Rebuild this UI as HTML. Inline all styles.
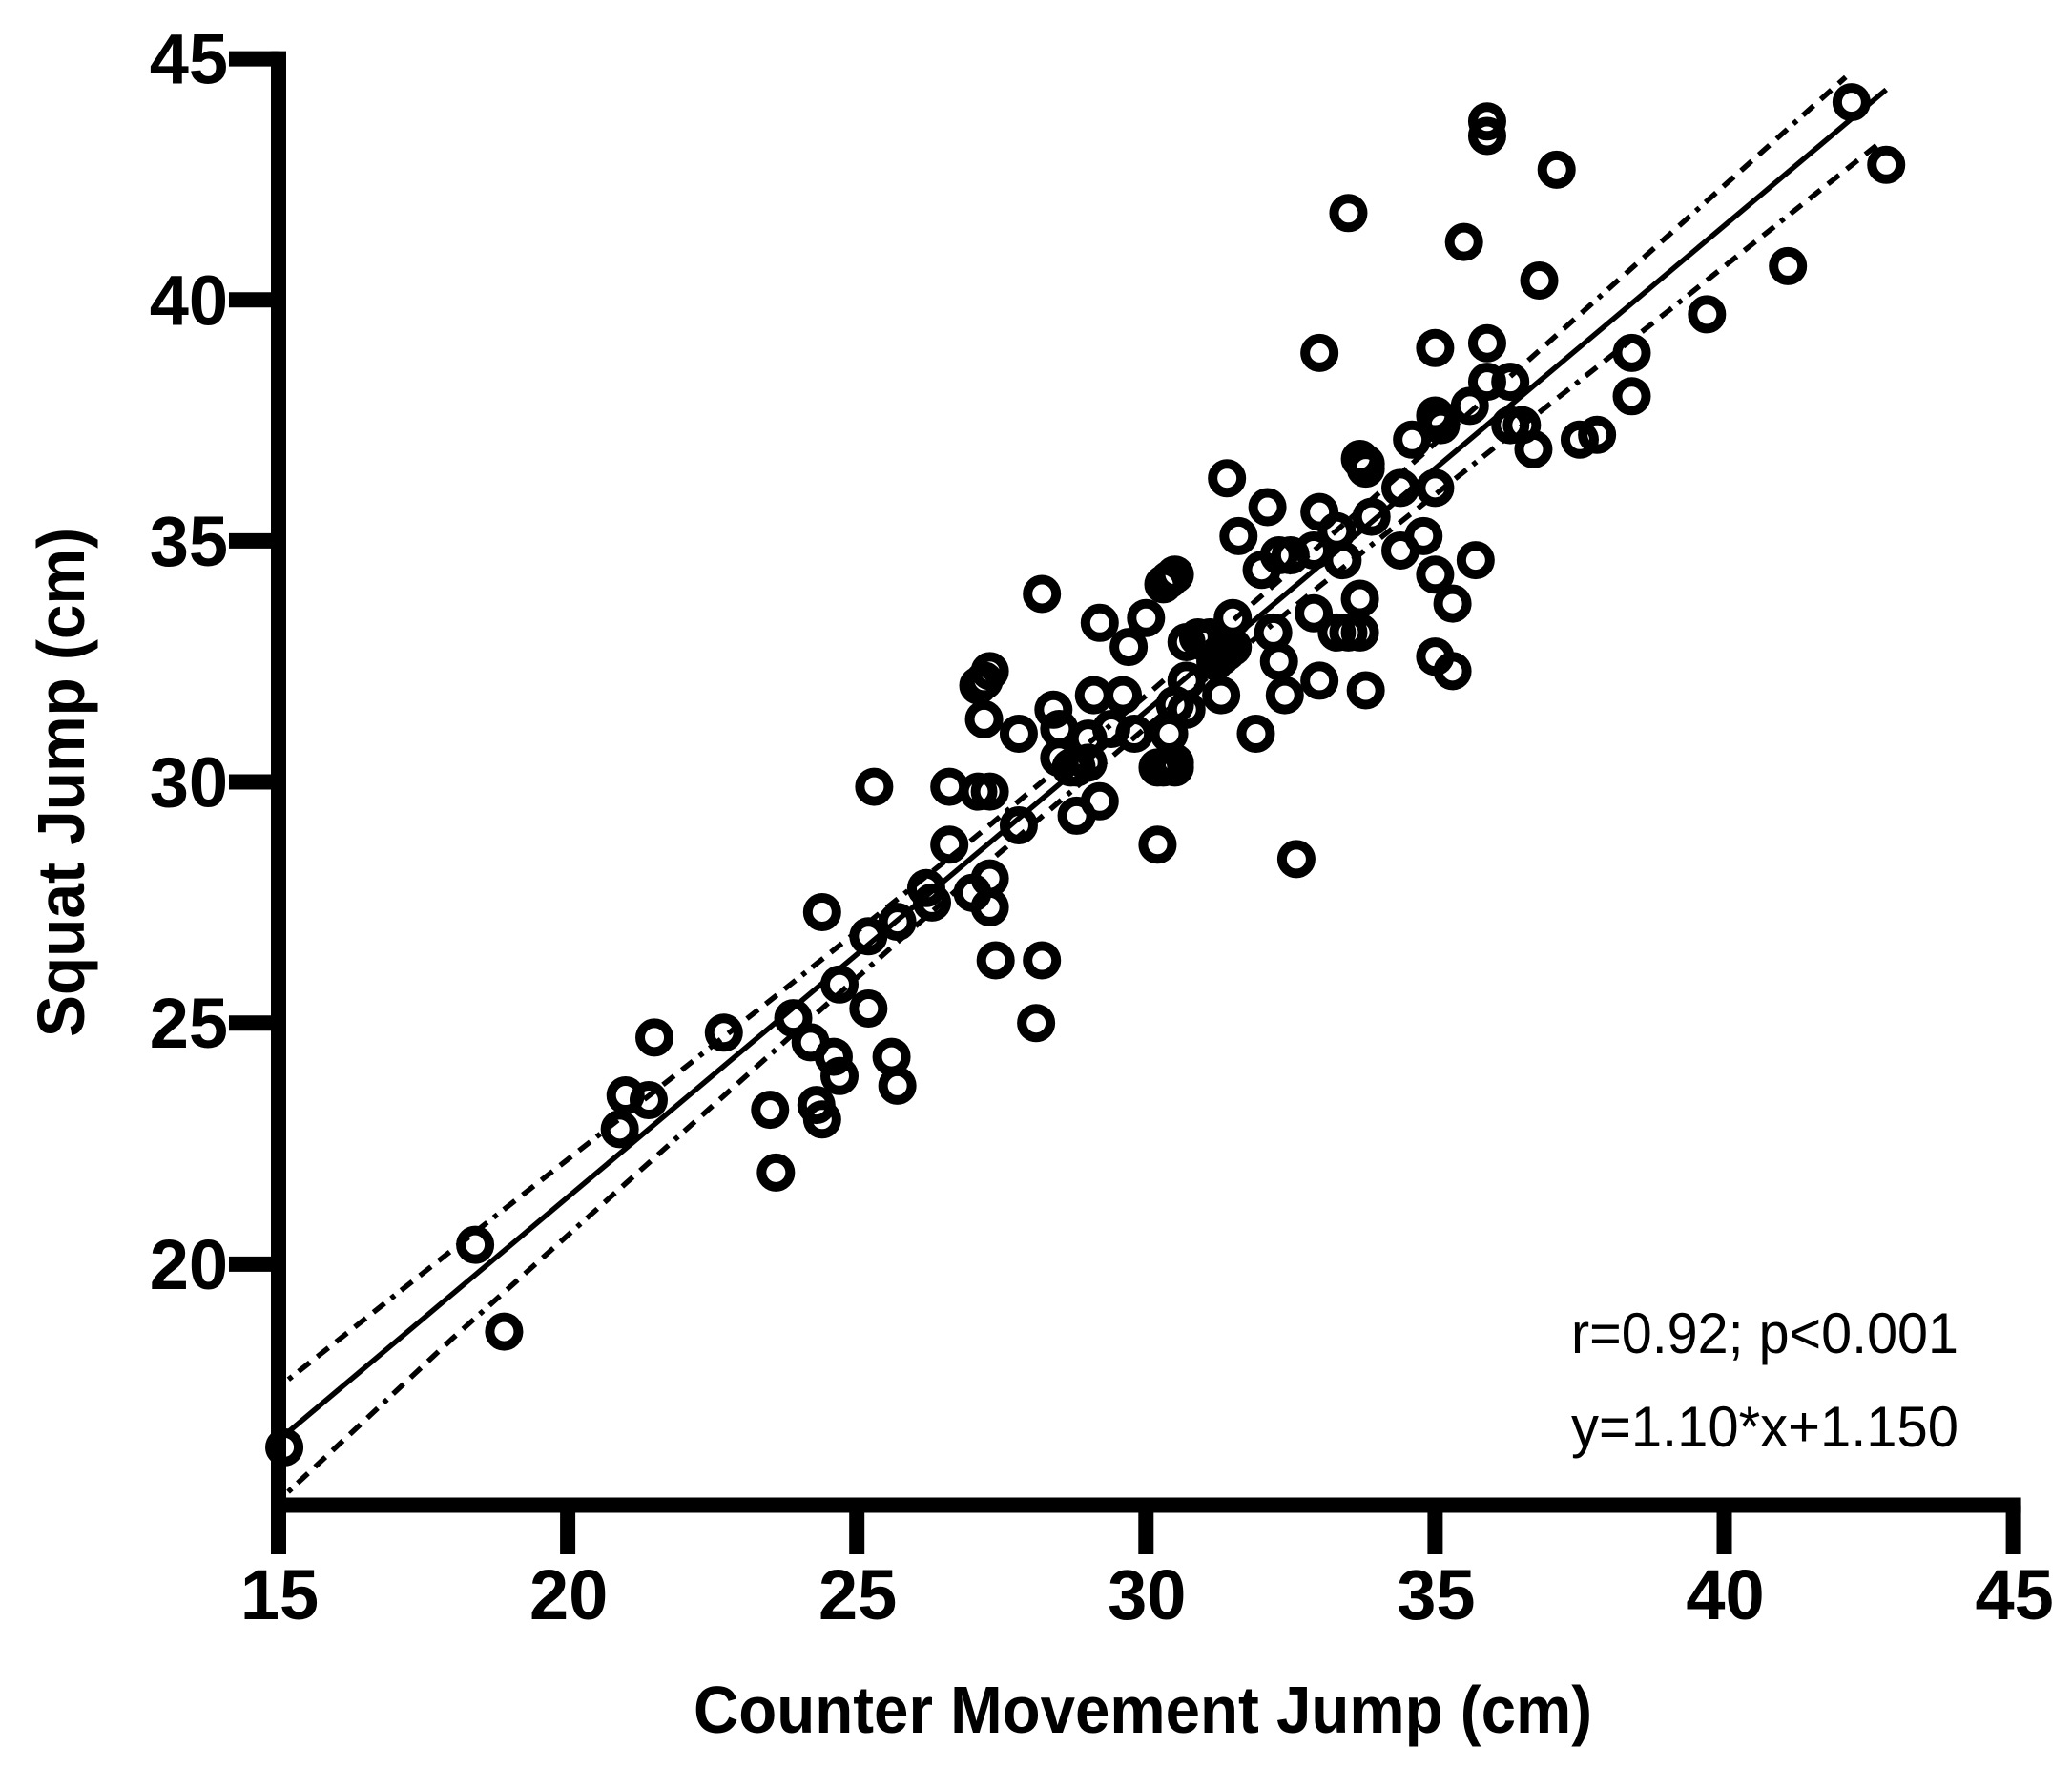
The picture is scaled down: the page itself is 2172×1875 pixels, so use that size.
<!DOCTYPE html>
<html lang="en">
<head>
<meta charset="utf-8">
<title>Squat Jump vs Counter Movement Jump</title>
<style>
html,body{margin:0;padding:0;background:#fff;width:2172px;height:1875px;overflow:hidden}
svg{display:block}
text{font-family:"Liberation Sans",Arial,sans-serif;fill:#000}
</style>
</head>
<body>
<svg id="chart" xmlns="http://www.w3.org/2000/svg" width="2172" height="1875" viewBox="0 0 2172 1875">
  <rect x="0" y="0" width="2172" height="1875" fill="#fff"/>
  <g id="fits"></g>
  <g id="axes"></g>
  <g id="points"></g>
  <text x="1198" y="1816" font-size="70" font-weight="bold" text-anchor="middle" textLength="942" lengthAdjust="spacingAndGlyphs">Counter Movement Jump (cm)</text>
  <text transform="translate(88,820) rotate(-90)" font-size="70" font-weight="bold" text-anchor="middle" textLength="534" lengthAdjust="spacingAndGlyphs">Squat Jump (cm)</text>
  <text x="1647" y="1418" font-size="60" textLength="406" lengthAdjust="spacingAndGlyphs">r=0.92; p&lt;0.001</text>
  <text x="1647" y="1516" font-size="60" textLength="406" lengthAdjust="spacingAndGlyphs">y=1.10*x+1.150</text>
</svg>
<script>
const xTicks = [15, 20, 25, 30, 35, 40, 45];
const yTicks = [20, 25, 30, 35, 40, 45];
const cmjValues = [15.1,18.4,18.9,20.9,21.0,21.4,21.5,22.7,23.5,23.6,23.9,24.2,24.3,24.4,24.4,24.6,24.7,24.7,25.2,25.2,25.3,25.6,25.7,25.7,26.2,26.3,26.6,26.6,27.0,27.1,27.1,27.2,27.2,27.3,27.3,27.3,27.3,27.4,27.8,27.8,28.1,28.2,28.2,28.4,28.5,28.5,28.7,28.8,28.8,29.0,29.0,29.1,29.2,29.2,29.4,29.6,29.7,29.8,30.0,30.2,30.2,30.3,30.4,30.5,30.5,30.4,30.5,30.3,30.4,30.5,30.7,30.7,30.7,30.9,31.0,31.1,31.2,31.3,31.4,31.5,31.5,31.3,31.4,31.6,31.9,32.0,32.2,32.1,32.3,32.5,32.3,32.4,32.6,32.9,33.0,32.9,33.0,33.0,33.3,33.4,33.3,33.5,33.7,33.7,33.5,33.7,33.8,33.8,33.8,33.9,34.4,34.4,34.6,34.8,35.0,35.0,35.0,35.0,35.0,35.1,35.1,35.3,35.3,35.5,35.6,35.7,35.9,35.9,35.9,35.9,36.3,36.3,36.5,36.7,36.8,37.1,37.5,37.8,38.4,38.4,39.7,41.1,42.2,42.8];
const squatValues = [16.2,20.4,18.6,22.8,23.5,23.4,24.7,24.8,23.2,21.9,25.1,24.6,23.3,23.0,27.3,24.3,23.9,25.8,25.3,26.8,29.9,24.3,23.7,27.1,27.8,27.5,28.7,29.9,27.7,29.8,32.0,31.3,32.1,32.3,29.8,28.0,27.4,26.3,29.1,31.0,25.0,26.3,33.9,31.5,31.1,30.5,30.3,30.3,29.3,30.4,30.9,31.8,29.6,33.3,31.1,31.8,32.8,31.0,33.4,28.7,30.3,30.3,30.4,30.3,30.4,31.0,31.6,34.1,34.2,34.3,31.5,32.1,32.9,33.0,32.9,33.0,32.5,32.6,32.7,32.8,33.4,31.8,36.3,35.1,31.0,34.4,33.1,35.7,34.7,34.7,32.5,31.8,28.4,34.8,35.6,33.5,32.1,38.9,35.2,34.6,33.1,33.1,33.1,33.8,41.8,36.7,36.6,36.5,31.9,35.5,34.8,36.1,37.1,35.1,36.1,34.3,32.6,39.0,37.6,37.4,37.5,33.7,32.3,41.2,37.8,34.6,38.3,39.1,43.7,43.4,38.3,37.4,37.4,36.9,40.4,42.7,37.1,37.2,38.9,38.0,39.7,40.7,44.1,42.8];
const fitX = [15.1, 42.8];
const fitY = [16.45, 44.36];
const upperX = [15.1,18,21,24,27,30,33,36,39,42.1];
const upperY = [17.54,20.29,23.11,25.94,28.81,31.79,34.90,38.09,41.30,44.62];
const lowerX = [15.1,18,21,24,27,30,33,36,39,42.65];
const lowerY = [15.2,18.45,21.67,24.88,28.05,31.13,34.06,36.91,39.74,43.22];

const NS = 'http://www.w3.org/2000/svg';
function xScale(v) { return 292 + (v - 15) * 60.62; }
function yScale(v) { return 1577.5 - (v - 15) * 50.53; }
function make(tag, parent, props) {
  const el = document.createElementNS(NS, tag);
  for (const k in props) el.setAttribute(k, props[k]);
  parent.appendChild(el);
  return el;
}
const axes = document.getElementById('axes');
const fits = document.getElementById('fits');
const pointsG = document.getElementById('points');
const AXIS_W = 16, TICK_END_X = 240, TICK_END_Y = 1629;

const yAxisLine = make('line', axes, {x1: xScale(15), x2: xScale(15), y1: yScale(45) - AXIS_W / 2, y2: TICK_END_Y, stroke: '#000', 'stroke-width': AXIS_W});


const xAxisLine = make('line', axes, {x1: xScale(15), x2: xScale(45) + AXIS_W / 2, y1: yScale(15), y2: yScale(15), stroke: '#000', 'stroke-width': AXIS_W});



xTicks.forEach(function (t) {
  const tick = make('line', axes, {x1: xScale(t), x2: xScale(t), y1: yScale(15), y2: TICK_END_Y, stroke: '#000', 'stroke-width': AXIS_W});
  
  
  const label = make('text', axes, {x: xScale(t) + 1, y: 1697, 'font-size': 74, 'font-weight': 'bold', 'text-anchor': 'middle'});
  label.textContent = t;
  
  
});
yTicks.forEach(function (t) {
  const tick = make('line', axes, {x1: TICK_END_X, x2: xScale(15), y1: yScale(t), y2: yScale(t), stroke: '#000', 'stroke-width': AXIS_W});
  
  
  const label = make('text', axes, {x: 239, y: yScale(t) + 26, 'font-size': 74, 'font-weight': 'bold', 'text-anchor': 'end'});
  label.textContent = t;
  
  
});

function polyPoints(xs, ys) {
  return xs.map(function (x, i) { return xScale(x) + ',' + yScale(ys[i]); }).join(' ');
}
const dashPattern = '15 10 15 10 15 10 15 10 15 8.5 5 8.5';
const fitLine = make('polyline', fits, {points: polyPoints(fitX, fitY), fill: 'none', stroke: '#000', 'stroke-width': 5.5});


const upperLine = make('polyline', fits, {points: polyPoints(upperX, upperY), fill: 'none', stroke: '#000', 'stroke-width': 5.5, 'stroke-dasharray': dashPattern, 'stroke-dashoffset': 118});


const lowerLine = make('polyline', fits, {points: polyPoints(lowerX, lowerY), fill: 'none', stroke: '#000', 'stroke-width': 5.5, 'stroke-dasharray': dashPattern, 'stroke-dashoffset': 118});



cmjValues.forEach(function (v, i) {
  const pt = make('circle', pointsG, {cx: xScale(v), cy: yScale(squatValues[i]), r: 15, fill: 'none', stroke: '#000', 'stroke-width': 10});
  
  
});
</script>
</body>
</html>
